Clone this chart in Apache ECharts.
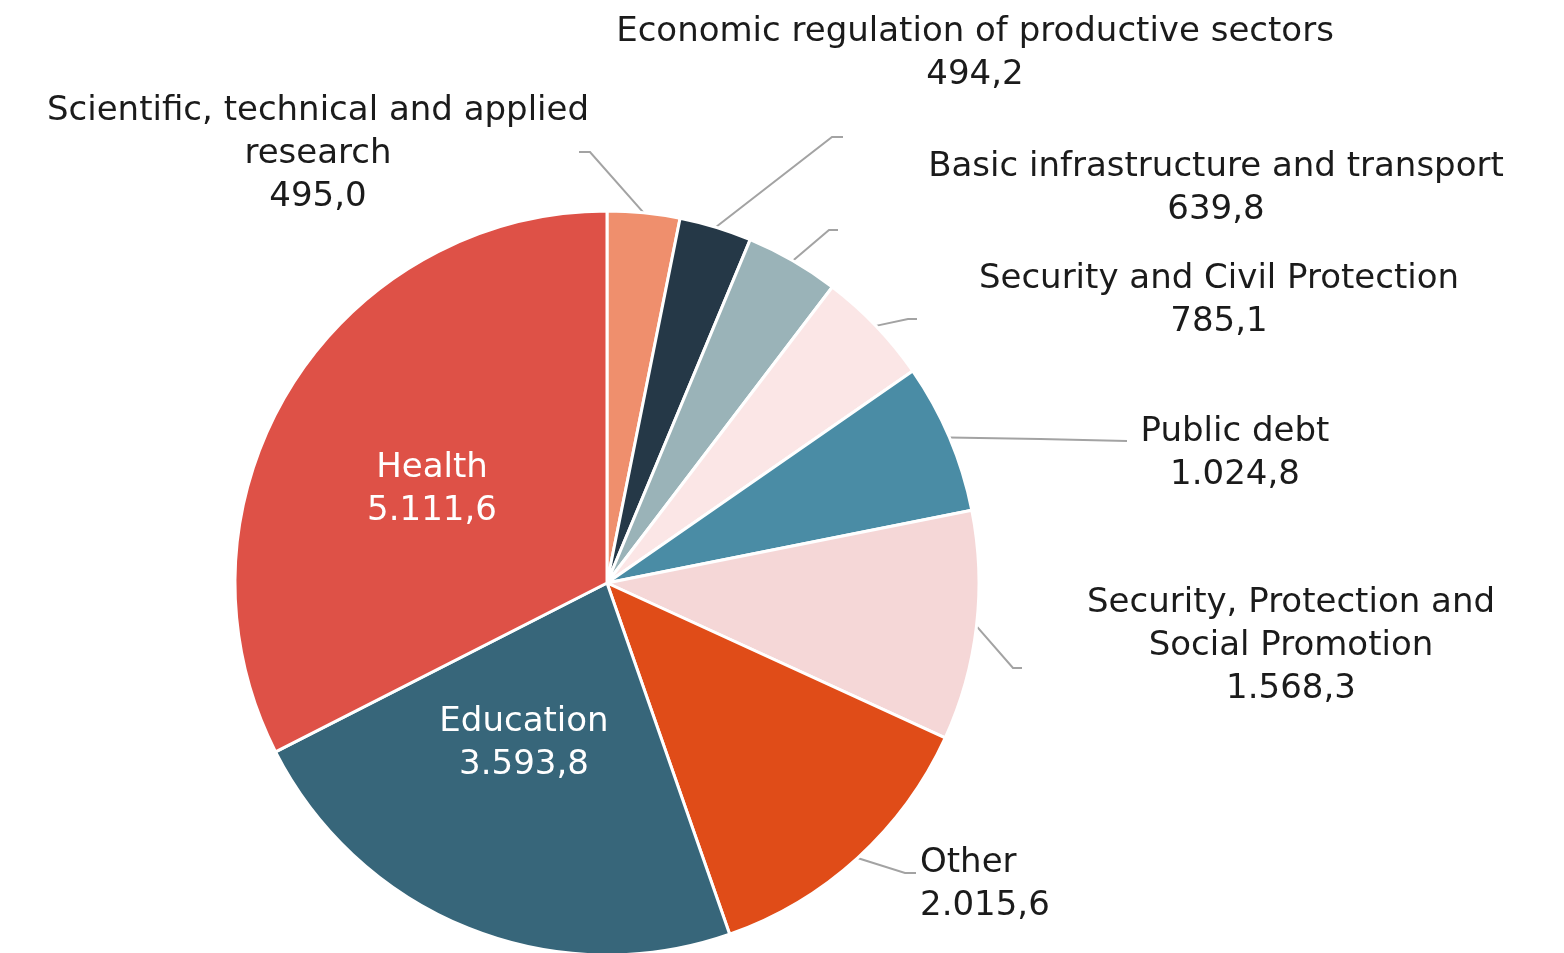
<!DOCTYPE html>
<html>
<head>
<meta charset="utf-8">
<script src="https://cdn.jsdelivr.net/npm/echarts@6/dist/echarts.min.js"></script>
<style>
  html, body { margin: 0; padding: 0; background: #ffffff; }
  #chart { width: 1564px; height: 953px; }
</style>
</head>
<body>
<div id="chart"></div>
<script>
// Spending by function (clockwise from 12 o'clock)
const categories = [
  'Scientific, technical and applied\nresearch',
  'Economic regulation of productive sectors',
  'Basic infrastructure and transport',
  'Security and Civil Protection',
  'Public debt',
  'Security, Protection and\nSocial Promotion',
  'Other',
  'Education',
  'Health'
];
const values = [495.0, 494.2, 639.8, 785.1, 1024.8, 1568.3, 2015.6, 3593.8, 5111.6];
const colors = ['#EF8F6D', '#253847', '#9AB3B8', '#FBE6E6', '#4A8CA5', '#F5D7D7', '#E04C18', '#37667A', '#DE5147'];
const insideLabels = ['Education', 'Health'];

// Label anchors [x, y, align] and leader-line bends (after the slice edge point)
const labelSpots = [
  [318, 154, 'center'],
  [975, 54, 'center'],
  [1216, 189, 'center'],
  [1219, 301, 'center'],
  [1235, 454, 'center'],
  [1291, 646, 'center'],
  [920, 885, 'left'],
  [524, 744, 'center'],
  [432, 490, 'center']
];
const leaderBends = [
  [[590, 152], [579, 152]],
  [[832, 137], [843, 137]],
  [[829, 230], [838, 230]],
  [[908, 319], [917, 319]],
  [[1040, 439], [1127, 441]],
  [[1013, 668], [1022, 668]],
  [[905, 873], [916, 873]],
  null,
  null
];

// 5111.6 -> "5.111,6"
function fmt(v) {
  const parts = v.toFixed(1).split('.');
  const intPart = parts[0].replace(/\B(?=(\d{3})+(?!\d))/g, '.');
  return intPart + ',' + parts[1];
}

const FONT = '"DejaVu Sans", "Noto Sans", sans-serif';

const seriesData = categories.map(function (name, i) {
  const inside = insideLabels.indexOf(name) >= 0;
  const item = {
    name: name,
    value: values[i],
    itemStyle: { color: colors[i] }
  };
  if (inside) {
    item.label = { position: 'inside', color: '#ffffff' };
    item.labelLine = { show: false };
  }
  return item;
});

const chart = echarts.init(document.getElementById('chart'), null, { renderer: 'canvas' });
chart.setOption({
  backgroundColor: '#ffffff',
  animation: false,
  series: [{
    type: 'pie',
    center: [607, 583],
    radius: [0, 372],
    startAngle: 90,
    clockwise: true,
    avoidLabelOverlap: false,
    data: seriesData,
    itemStyle: { borderColor: '#ffffff', borderWidth: 3 },
    label: {
      show: true,
      position: 'outside',
      formatter: function (p) { return p.name + '\n' + fmt(p.value); },
      fontFamily: FONT,
      fontSize: 34,
      lineHeight: 43,
      color: '#1b1b1b',
      align: 'center'
    },
    labelLine: {
      show: true,
      length: 20,
      length2: 10,
      lineStyle: { color: '#a3a3a3', width: 2 }
    },
    labelLayout: function (p) {
      const i = p.dataIndex;
      const spot = labelSpots[i];
      const out = { x: spot[0], y: spot[1], align: spot[2], verticalAlign: 'middle' };
      const bend = leaderBends[i];
      if (bend && p.labelLinePoints) {
        out.labelLinePoints = [p.labelLinePoints[0]].concat(bend);
      }
      return out;
    }
  }]
});
</script>
</body>
</html>
